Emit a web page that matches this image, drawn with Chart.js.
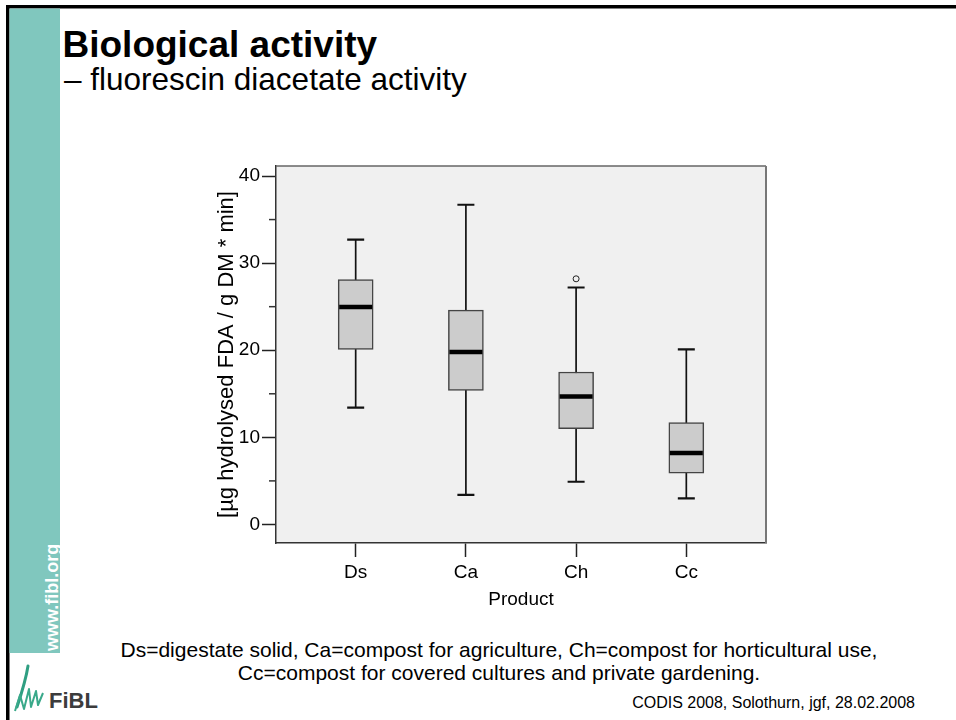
<!DOCTYPE html>
<html>
<head>
<meta charset="utf-8">
<title>Biological activity</title>
<script src="https://cdn.jsdelivr.net/npm/chart.js@4.4.1/dist/chart.umd.min.js"></script>
<style>
  html, body { margin: 0; padding: 0; background: #fff; }
  #page { position: relative; width: 956px; height: 720px; overflow: hidden; font-family: "Liberation Sans", Arial, sans-serif; }
  #deco { position: absolute; left: 0; top: 0; }
  #chartBox { position: absolute; left: 0; top: 0; width: 956px; height: 720px; }
</style>
</head>
<body>
<div id="page">
  <svg id="deco" width="956" height="720" xmlns="http://www.w3.org/2000/svg" font-family="Liberation Sans, Arial, sans-serif">
    <!-- slide frame and side band -->
    <rect x="6" y="5" width="950" height="3.5" fill="#000"/>
    <rect x="6" y="5" width="3.5" height="715" fill="#000"/>
    <rect x="9.5" y="8.5" width="50.5" height="644.5" fill="#80c7be"/>
    <text transform="translate(58,651) rotate(-90)" font-weight="bold" font-size="18" fill="#fff">www.fibl.org</text>

    <!-- logo -->
    <path d="M28,666 C26,679 22,692 17,707" stroke="#2f9f82" stroke-width="3" fill="none" stroke-linecap="round"/>
    <path d="M15,711 L20,695 L24,709 L29,689 L31,707 L36,691 L38,705 L43,693" stroke="#3aa98a" stroke-width="2" fill="none" stroke-linejoin="round"/>
    <text x="49" y="708" font-weight="bold" font-size="22" fill="#3c3c3c">FiBL</text>

    <!-- headings -->
    <text x="62.5" y="57" font-weight="bold" font-size="37" fill="#000">Biological activity</text>
    <text x="64" y="90" font-size="31.5" fill="#000">– fluorescin diacetate activity</text>

    <!-- legend for the product codes -->
    <text x="499" y="657" font-size="21" fill="#000" text-anchor="middle">Ds=digestate solid, Ca=compost for agriculture, Ch=compost for horticultural use,</text>
    <text x="499" y="680" font-size="21" fill="#000" text-anchor="middle">Cc=compost for covered cultures and private gardening.</text>

    <text x="915" y="708" font-size="16" fill="#000" text-anchor="end">CODIS 2008, Solothurn, jgf, 28.02.2008</text>
  </svg>
  <div id="chartBox"><canvas id="boxChart"></canvas></div>
</div>

<script>
// FDA activity per product: box plot summaries
const categories = ["Ds", "Ca", "Ch", "Cc"];
const whiskerLow = [13.4, 3.4, 4.9, 3.0];
const quartile1 = [20.1, 15.4, 11.0, 5.9];
const medians = [24.95, 19.8, 14.7, 8.2];
const quartile3 = [28.1, 24.6, 17.5, 11.7];
const whiskerHigh = [32.7, 36.7, 27.2, 20.1];
const outlierCats = ["Ch"];
const outlierValues = [28.2];

const yMajorTicks = [0, 10, 20, 30, 40];
const yMinorTicks = [5, 15, 25, 35];
const yMin = -2.13;
const yMax = 41.15;

const edgeGap = 0.723;   // free space left/right of the outer boxes, in category units
const boxWidth = 35;
const capHalf = 8.5;

Chart.defaults.font.family = '"Liberation Sans", Arial, sans-serif';
Chart.defaults.color = "#000";

// whiskers, medians, plot frame and minor ticks
const boxParts = {
  id: "boxParts",
  beforeDraw(chart) {
    const { ctx, chartArea: a } = chart;
    ctx.save();
    ctx.fillStyle = "#f0f0f0";
    ctx.fillRect(a.left, a.top, a.right - a.left, a.bottom - a.top);
    ctx.restore();
  },
  beforeDatasetsDraw(chart) {
    const ctx = chart.ctx;
    const xs = chart.scales.x, ys = chart.scales.y;
    ctx.save();
    ctx.strokeStyle = "#111";
    categories.forEach((c, i) => {
      const px = xs.getPixelForValue(i + 1);
      const lo = ys.getPixelForValue(whiskerLow[i]);
      const hi = ys.getPixelForValue(whiskerHigh[i]);
      ctx.lineWidth = 1.7;
      ctx.beginPath();
      ctx.moveTo(px, lo);
      ctx.lineTo(px, hi);
      ctx.stroke();
      ctx.lineWidth = 2.2;
      ctx.beginPath();
      ctx.moveTo(px - capHalf, lo);
      ctx.lineTo(px + capHalf, lo);
      ctx.moveTo(px - capHalf, hi);
      ctx.lineTo(px + capHalf, hi);
      ctx.stroke();
    });
    ctx.restore();
  },
  afterDatasetsDraw(chart) {
    const ctx = chart.ctx;
    const xs = chart.scales.x, ys = chart.scales.y;
    const a = chart.chartArea;
    ctx.save();
    // median bars
    ctx.strokeStyle = "#000";
    ctx.lineWidth = 4.5;
    categories.forEach((c, i) => {
      const px = xs.getPixelForValue(i + 1);
      const py = ys.getPixelForValue(medians[i]);
      ctx.beginPath();
      ctx.moveTo(px - boxWidth / 2 + 1, py);
      ctx.lineTo(px + boxWidth / 2 - 1, py);
      ctx.stroke();
    });
    // top and right edges of the plot frame
    ctx.lineWidth = 1.5;
    ctx.strokeStyle = "#666";
    ctx.beginPath();
    ctx.moveTo(a.left, a.top);
    ctx.lineTo(a.right, a.top);
    ctx.stroke();
    ctx.lineWidth = 2;
    ctx.strokeStyle = "#777";
    ctx.beginPath();
    ctx.moveTo(a.right, a.top);
    ctx.lineTo(a.right, a.bottom);
    ctx.stroke();
    // short minor ticks on the value axis
    ctx.lineWidth = 1.5;
    ctx.strokeStyle = "#333";
    yMinorTicks.forEach(v => {
      const py = ys.getPixelForValue(v);
      ctx.beginPath();
      ctx.moveTo(a.left - 7, py);
      ctx.lineTo(a.left, py);
      ctx.stroke();
    });
    ctx.restore();
  }
};

new Chart(document.getElementById("boxChart"), {
  type: "bar",
  data: {
    datasets: [
      {
        label: "box",
        data: categories.map((c, i) => ({ x: i + 1, y: [quartile1[i], quartile3[i]] })),
        backgroundColor: "#cccccc",
        borderColor: "#444",
        borderWidth: 1.5,
        borderSkipped: false,
        barThickness: boxWidth
      },
      {
        type: "scatter",
        label: "outliers",
        data: outlierCats.map((c, i) => ({ x: categories.indexOf(c) + 1, y: outlierValues[i] })),
        pointStyle: "circle",
        pointRadius: 3,
        borderWidth: 1,
        borderColor: "#222",
        backgroundColor: "rgba(0,0,0,0)"
      }
    ]
  },
  options: {
    responsive: true,
    maintainAspectRatio: false,
    animation: false,
    layout: { padding: { left: 200, top: 166, right: 190, bottom: 107 } },
    plugins: {
      legend: { display: false },
      tooltip: { enabled: false }
    },
    scales: {
      x: {
        type: "linear",
        offset: false,
        min: 1 - edgeGap,
        max: categories.length + edgeGap,
        afterBuildTicks: s => { s.ticks = categories.map((c, i) => ({ value: i + 1 })); },
        afterFit: s => { s.height = 70; },
        ticks: {
          callback: v => categories[v - 1] ?? "",
          font: { size: 19 },
          padding: 4,
          maxRotation: 0,
          autoSkip: false
        },
        grid: { offset: false, drawOnChartArea: false, drawTicks: true, tickLength: 14, tickColor: "#222", tickWidth: 1.5 },
        border: { display: true, color: "#333", width: 1.5 },
        title: { display: true, text: "Product", font: { size: 19 }, padding: { top: 0, bottom: 2 } }
      },
      y: {
        min: yMin,
        max: yMax,
        afterBuildTicks: s => {
          s.ticks = yMajorTicks.concat(yMinorTicks).sort((p, q) => p - q).map(v => ({ value: v }));
        },
        afterFit: s => { s.width = 76; },
        ticks: {
          callback: v => yMajorTicks.includes(v) ? String(v) : "",
          font: { size: 19 },
          padding: 2,
          autoSkip: false
        },
        grid: {
          drawOnChartArea: false,
          drawTicks: true,
          tickLength: 14,
          tickWidth: 1.5,
          tickColor: c => yMajorTicks.includes(c.tick.value) ? "#222" : "rgba(0,0,0,0)"
        },
        border: { display: true, color: "#333", width: 1.5 },
        title: { display: true, text: "[µg hydrolysed FDA / g DM * min]", font: { size: 22 }, padding: { top: 14, bottom: 0 } }
      }
    }
  },
  plugins: [boxParts]
});
</script>
</body>
</html>
